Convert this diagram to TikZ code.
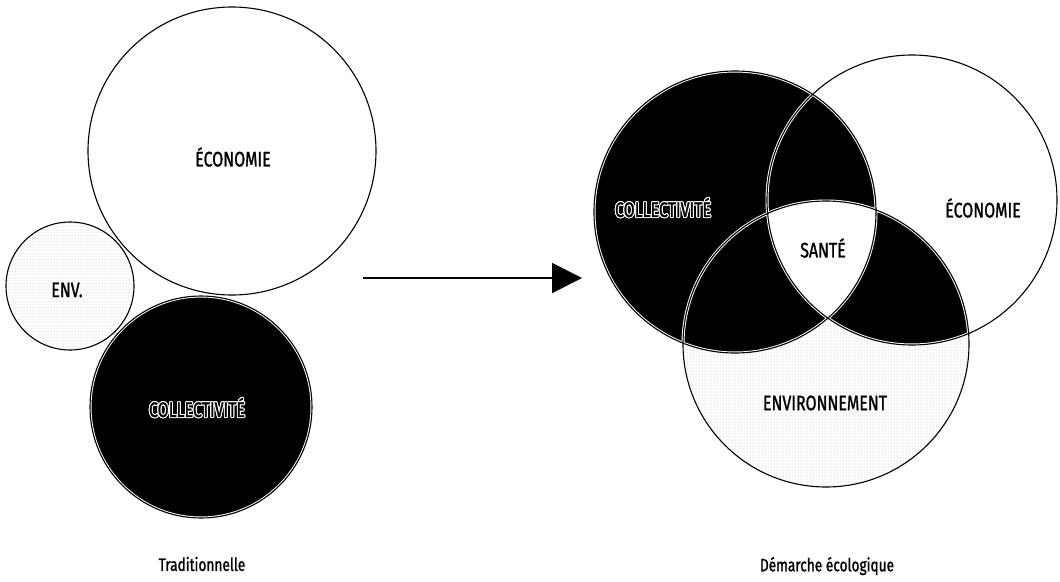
\documentclass[tikz,border=0pt]{standalone}
\usepackage{fontspec}
\newfontfamily\diagfont{Fira Sans}[FakeStretch=0.76, FakeBold=1.2]
\usepackage{contour}
\contourlength{1pt}
\usetikzlibrary{arrows.meta, patterns}

\begin{document}
\begin{tikzpicture}[x=1pt, y=-1pt, line join=round,
	ring/.style={draw=black, line width=1.1pt},
	halo/.style={draw=white, line width=3pt},
	stipple/.style={pattern=dots, pattern color=gray!60},
	lbl/.style={font=\diagfont\fontsize{21}{21}\selectfont, inner sep=0pt},
	caption/.style={font=\diagfont\fontsize{18}{18}\selectfont, inner sep=0pt}]
	
	% ================= 1. cadre =================
	\useasboundingbox (0,0) rectangle (1060,581);
	
	% ================= 2. approche traditionnelle =================
	\coordinate (ecoT) at (232,151);
	\coordinate (envT) at (70,286);
	\coordinate (colT) at (201,407);
	
	\draw[ring, fill=white] (ecoT) circle (144);
	\fill[white] (envT) circle (64);
	\fill[stipple] (envT) circle (64);
	\draw[ring] (envT) circle (64);
	\fill[black] (colT) circle (111);
	\begin{scope}
		\clip (colT) circle (111);
		\draw[halo] (colT) circle (111);
	\end{scope}
	\draw[ring] (colT) circle (111);
	
	\node[lbl] (ecoTlbl) at (233,157) {ÉCONOMIE};
	\node[lbl] (envTlbl) at (67,290) {ENV.};
	\node[lbl] (colTlbl) at (197,408) {\contour{white}{COLLECTIVITÉ}};
	\node[caption] (tradlbl) at (202,564) {Traditionnelle};
	
	% ================= 3. fleche =================
	\coordinate (arrS) at (363,278);
	\coordinate (arrE) at (582,278);
	\draw[-{Triangle[length=30pt, width=30pt]}, line width=2pt] (arrS) -- (arrE);
	
	% ================= 4. demarche ecologique =================
	\coordinate (colD) at (735,212);
	\coordinate (ecoD) at (912,200);
	\coordinate (envD) at (826,344);
	
	\fill[white] (ecoD) circle (145);
	\fill[white] (envD) circle (143);
	\fill[stipple] (envD) circle (143);
	\fill[black] (colD) circle (141);
	% intersections deux a deux en noir
	\begin{scope}
		\clip (ecoD) circle (145);
		\fill[black] (envD) circle (143);
	\end{scope}
	% centre blanc (sante)
	\begin{scope}
		\clip (colD) circle (141);
		\clip (ecoD) circle (145);
		\fill[white] (envD) circle (143);
	\end{scope}
	% liseres blancs dans les zones noires
	\begin{scope}
		\clip (colD) circle (141);
		\foreach \c/\r in {colD/141, ecoD/145, envD/143}
			\draw[halo] (\c) circle (\r);
	\end{scope}
	\begin{scope}
		\clip (ecoD) circle (145);
		\clip (envD) circle (143);
		\foreach \c/\r in {colD/141, ecoD/145, envD/143}
			\draw[halo] (\c) circle (\r);
	\end{scope}
	\foreach \c/\r in {colD/141, ecoD/145, envD/143}
		\draw[ring] (\c) circle (\r);
	
	\node[lbl] (colDlbl) at (663,208) {\contour{white}{COLLECTIVITÉ}};
	\node[lbl] (ecoDlbl) at (983,208) {ÉCONOMIE};
	\node[lbl] (santelbl) at (823,248) {SANTÉ};
	\node[lbl] (envDlbl) at (825,403) {ENVIRONNEMENT};
	\node[caption] (demlbl) at (827,566) {Démarche écologique};
	
\end{tikzpicture}
\end{document}
